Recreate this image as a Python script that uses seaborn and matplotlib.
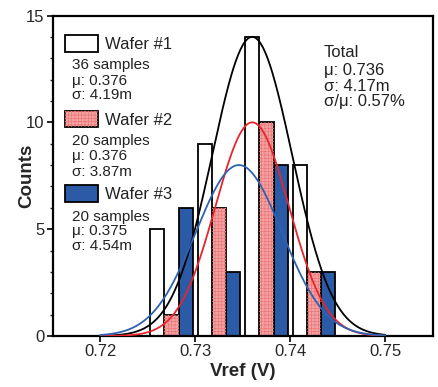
import numpy as np
import pandas as pd
import matplotlib
matplotlib.use("Agg")
import matplotlib.pyplot as plt
from matplotlib.patches import Rectangle
from matplotlib.colors import to_rgb
import seaborn as sns

# histogram data (counts per bin)
bin_edges = [0.725, 0.730, 0.735, 0.740, 0.745]
bin_centers = [0.7275, 0.7325, 0.7375, 0.7425]
wafers = ["Wafer #1", "Wafer #2", "Wafer #3"]
counts_w1 = [5, 9, 14, 8]
counts_w2 = [1, 6, 10, 3]
counts_w3 = [6, 3, 8, 3]

# fitted gaussian curves: total, wafer 2, wafer 3
curve_names = ["Total", "Wafer #2", "Wafer #3"]
curve_peak = [14, 10, 8]
curve_mu = [0.736, 0.736, 0.7346]
curve_sigma = [0.00420, 0.00387, 0.00454]
curve_range = [0.72, 0.75]

# annotation texts
sub_texts = [["36 samples", "\u03bc: 0.376", "\u03c3: 4.19m"],
             ["20 samples", "\u03bc: 0.376", "\u03c3: 3.87m"],
             ["20 samples", "\u03bc: 0.375", "\u03c3: 4.54m"]]
total_text = ["Total", "\u03bc: 0.736", "\u03c3: 4.17m", "\u03c3/\u03bc: 0.57%"]

x_ticks = [0.72, 0.73, 0.74, 0.75]
y_ticks = [0, 5, 10, 15]

bar_colors = ["white", "#F6A2A2", "#2B5AA6"]
hatch_color = "#E87878"
curve_colors = ["black", "#E8252A", "#2F62B0"]

sns.set_style("ticks")
plt.rcParams["font.family"] = ["Liberation Sans", "DejaVu Sans"]
plt.rcParams["hatch.linewidth"] = 0.5

df = pd.DataFrame({
    "Vref": bin_centers * 3,
    "wafer": [w for w in wafers for _ in bin_centers],
    "n": counts_w1 + counts_w2 + counts_w3,
})

fig = plt.figure(figsize=(4.39, 3.87), dpi=100)
W, H = 439, 387
AX_L, AX_R, AX_T, AX_B = 52.7, 432.7, 15.5, 336.0
ax = fig.add_axes([AX_L / W, 1 - AX_B / H, (AX_R - AX_L) / W, (AX_B - AX_T) / H])

sns.histplot(data=df, x="Vref", weights="n", hue="wafer", hue_order=wafers,
             bins=bin_edges, multiple="dodge", shrink=0.9,
             palette=bar_colors, alpha=1, edgecolor="black", linewidth=1.3,
             legend=False, ax=ax)

# fine cross hatch on the red bars
red = np.array(to_rgb(bar_colors[1]))
for p in list(ax.patches):
    if np.allclose(np.array(p.get_facecolor()[:3]), red, atol=0.01):
        ov = Rectangle(p.get_xy(), p.get_width(), p.get_height(), facecolor="none",
                       edgecolor=hatch_color, lw=0, hatch="+++++", zorder=p.get_zorder() + 0.01)
        ax.add_patch(ov)

# gaussian fit curves
xs = np.linspace(curve_range[0], curve_range[1], 400)
for name, a, mu, s, c in zip(curve_names, curve_peak, curve_mu, curve_sigma, curve_colors):
    ys = a * np.exp(-0.5 * ((xs - mu) / s) ** 2)
    sns.lineplot(x=xs, y=ys, color=c, lw=1.3, ax=ax, zorder=5)

ax.set_xlim(0.715, 0.755)
ax.set_ylim(0, 15)
ax.set_xticks(x_ticks)
ax.set_xticklabels([f"{t:.2f}" for t in x_ticks])
ax.set_yticks(y_ticks)
ax.set_yticks(np.arange(0, 16, 1), minor=True)
ax.tick_params(axis="both", which="major", direction="out", length=4.5, width=1.2,
               labelsize=12, pad=1.5, color="black")
ax.tick_params(axis="y", which="minor", direction="out", length=2.5, width=1.0)
for sp in ax.spines.values():
    sp.set_visible(True)
    sp.set_linewidth(1.6)
    sp.set_color("black")

ax.set_xlabel("Vref (V)", fontsize=13.5, fontweight="bold")
ax.set_ylabel("Counts", fontsize=13.5, fontweight="bold")
ax.xaxis.set_label_coords(0.5, -0.085)
ax.yaxis.set_label_coords(-0.045, 0.5)


def fx(px):
    return (px - AX_L) / (AX_R - AX_L)


def fy(py):
    return (AX_B - py) / (AX_B - AX_T)


# hand-built legend
patch_tops = [35, 110.7, 185]
label_base = [49, 124.7, 199]
sub_base = [[68.5, 84.5, 99.5], [145.5, 160.5, 175.5], [220.5, 235.5, 249.5]]
for i in range(3):
    r = Rectangle((fx(65), fy(patch_tops[i] + 16.5)), fx(98) - fx(65), fy(patch_tops[i]) - fy(patch_tops[i] + 16.5),
                  transform=ax.transAxes, facecolor=bar_colors[i], edgecolor="black", lw=1.3, zorder=6)
    ax.add_patch(r)
    if i == 1:
        ax.add_patch(Rectangle(r.get_xy(), r.get_width(), r.get_height(), transform=ax.transAxes,
                               facecolor="none", edgecolor=hatch_color, lw=0, hatch="+++++", zorder=6.1))
    ax.text(fx(105), fy(label_base[i]), wafers[i], transform=ax.transAxes,
            fontsize=12, va="baseline", ha="left", color="#222222")
    for line, b in zip(sub_texts[i], sub_base[i]):
        ax.text(fx(72), fy(b), line, transform=ax.transAxes,
                fontsize=11, va="baseline", ha="left", color="#222222")

for line, b in zip(total_text, [56.7, 75, 91, 106]):
    ax.text(fx(324), fy(b), line, transform=ax.transAxes,
            fontsize=12, va="baseline", ha="left", color="#222222")

fig.savefig("out.png", dpi=100)
